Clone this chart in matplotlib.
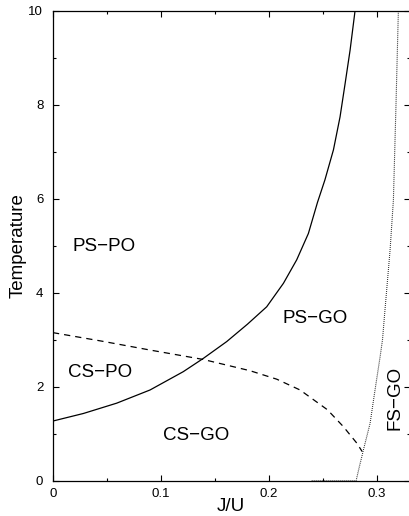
import matplotlib
matplotlib.use("Agg")
import matplotlib.pyplot as plt
from matplotlib.ticker import MultipleLocator

plt.rcParams['font.family'] = ['Liberation Sans', 'DejaVu Sans']

# Solid boundary (PO -> GO)
solid_J = [0.0, 0.0281, 0.059, 0.0898, 0.1206, 0.139, 0.1608, 0.1800, 0.1978, 0.2133,
           0.2256, 0.2364, 0.2448, 0.2517, 0.2596, 0.2657, 0.2704, 0.2750, 0.2796]
solid_T = [1.27, 1.43, 1.65, 1.93, 2.32, 2.60, 2.96, 3.33, 3.70, 4.20,
           4.70, 5.26, 5.92, 6.40, 7.04, 7.74, 8.45, 9.16, 10.0]

# Dashed boundary (PS -> CS)
dash_J = [0.0, 0.045, 0.0898, 0.139, 0.1824, 0.2071, 0.2287, 0.2540, 0.2688, 0.2812, 0.2862]
dash_T = [3.15, 2.97, 2.78, 2.58, 2.34, 2.16, 1.93, 1.51, 1.15, 0.80, 0.62]

# Dotted boundary (GO -> FS)
dot_J = [0.2395, 0.2806, 0.2836, 0.2873, 0.2935, 0.2981, 0.3028, 0.3050, 0.3068,
         0.3120, 0.3151, 0.3175, 0.3197]
dot_T = [0.0, 0.0, 0.30, 0.65, 1.22, 1.93, 2.64, 3.0, 3.5, 4.9, 5.97, 8.0, 10.0]

labels = ["PS\u2212PO", "CS\u2212PO", "CS\u2212GO", "PS\u2212GO", "FS\u2212GO"]
label_J = [0.0475, 0.0435, 0.1322, 0.243, 0.3165]
label_T = [4.98, 2.30, 0.97, 3.45, 1.76]
label_rot = [0, 0, 0, 0, 90]

fig = plt.figure(figsize=(4.09, 5.16), dpi=100)
ax = fig.add_axes([53/409, 35.3/516, 356.5/409, 470/516])

ax.plot(solid_J, solid_T, color='black', lw=0.9)
ax.plot(dash_J, dash_T, color='black', lw=0.9, dashes=(5, 4))
ax.plot(dot_J, dot_T, color='black', lw=0.8, dashes=(0.7, 1.1))

for s, x, y, r in zip(labels, label_J, label_T, label_rot):
    ax.text(x, y, s, fontsize=13.5, ha='center', va='center', rotation=r)

ax.set_xlim(0, 0.33)
ax.set_ylim(0, 10)
ax.xaxis.set_major_locator(MultipleLocator(0.1))
ax.xaxis.set_minor_locator(MultipleLocator(0.05))
ax.yaxis.set_major_locator(MultipleLocator(2))
ax.yaxis.set_minor_locator(MultipleLocator(1))
ax.set_xticks([0, 0.1, 0.2, 0.3])
ax.set_xticklabels(["0", "0.1", "0.2", "0.3"])
ax.tick_params(which='both', direction='in', top=True, right=True, labelsize=9.5, width=0.8)
ax.tick_params(which='major', length=4)
ax.tick_params(which='minor', length=2.5)
ax.tick_params(axis='y', pad=7)
ax.tick_params(axis='x', pad=5)
for sp in ax.spines.values():
    sp.set_linewidth(0.9)

ax.set_xlabel("J/U", fontsize=13.5, labelpad=-1)
ax.set_ylabel("Temperature", fontsize=13.5, labelpad=1)

fig.savefig("out.png", dpi=100)
